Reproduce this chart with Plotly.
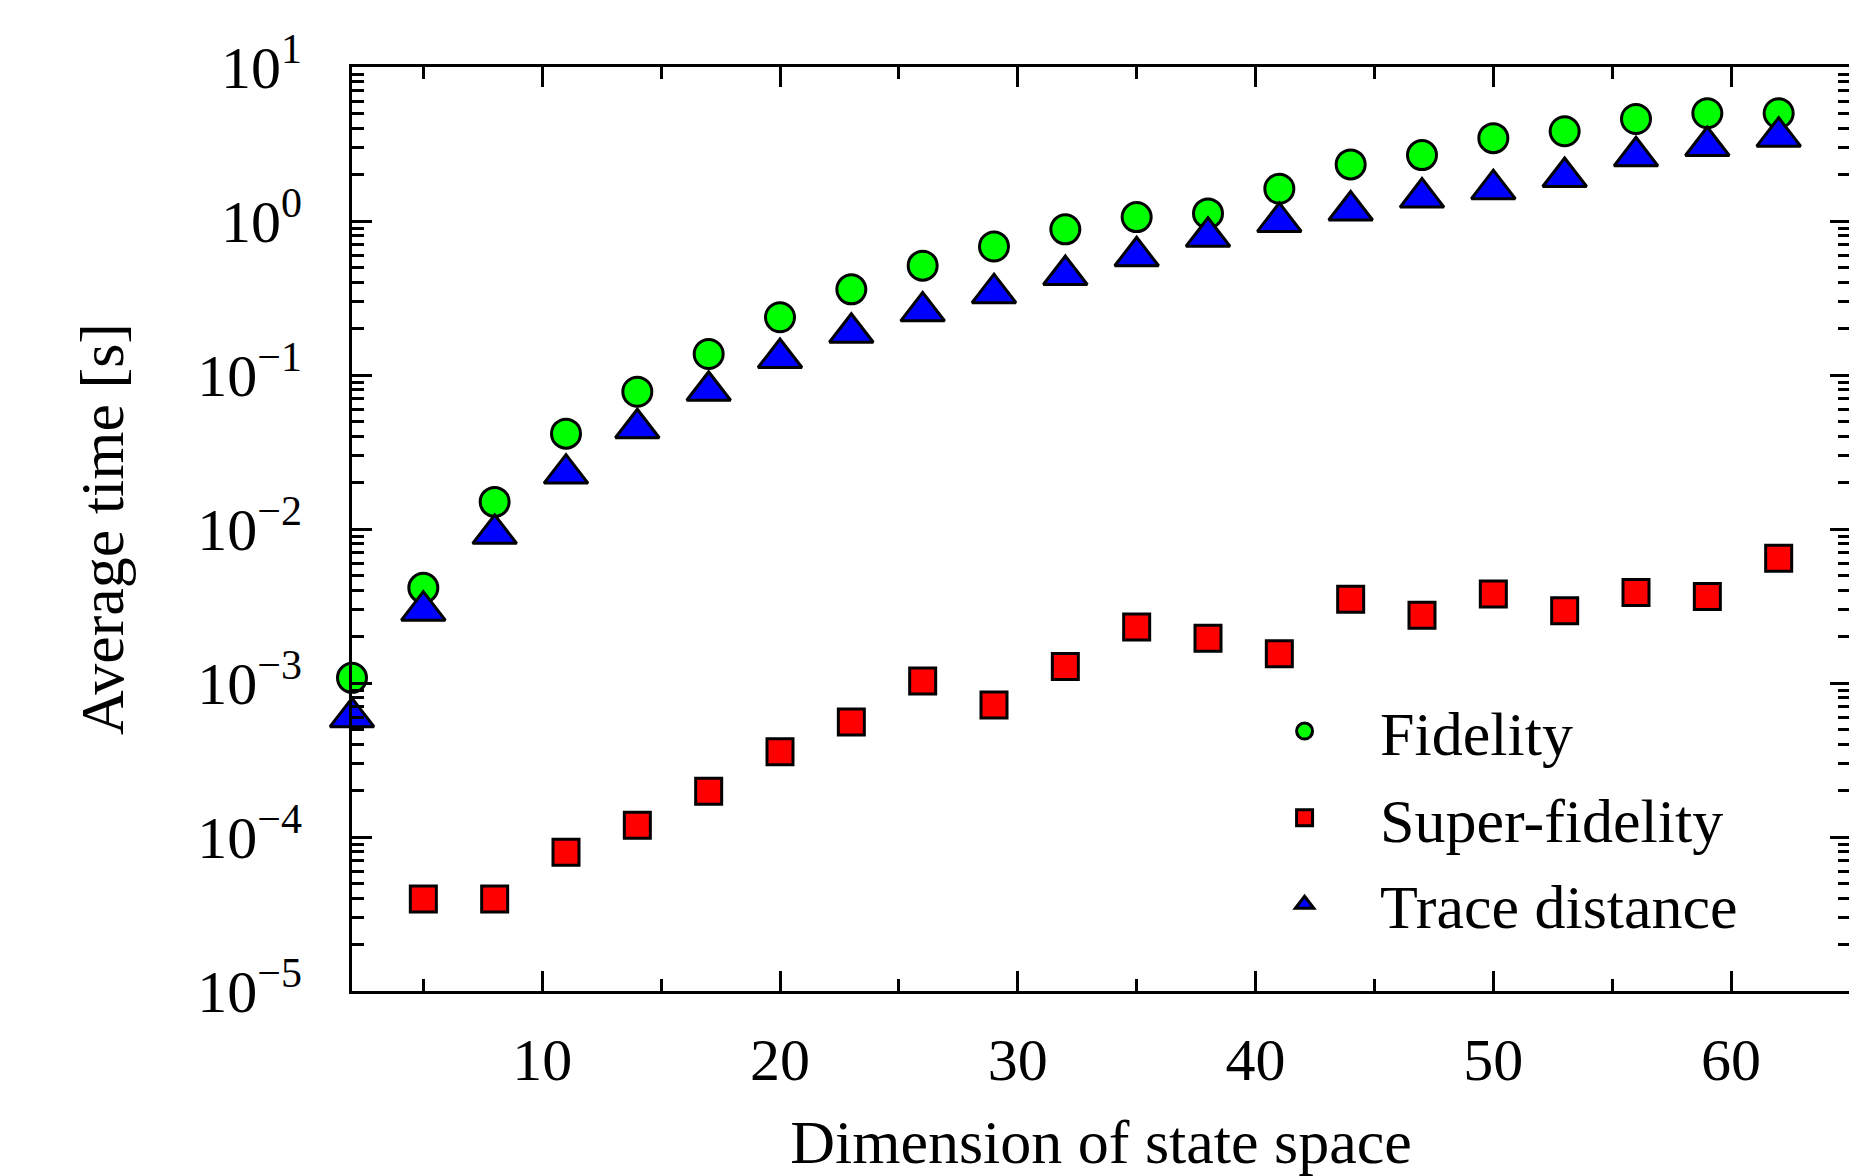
import plotly.graph_objects as go

# ---- data ----
dims = [2, 5, 8, 11, 14, 17, 20, 23, 26, 29, 32, 35, 38, 41, 44, 47, 50, 53, 56, 59, 62]
fidelity = [1.08e-3, 4.15e-3, 0.0150, 0.0416, 0.0778, 0.137, 0.237, 0.36, 0.513, 0.683,
            0.883, 1.06, 1.12, 1.62, 2.33, 2.68, 3.45, 3.83, 4.6, 5.01, 5.01]
trace_distance = [6.0e-4, 2.95e-3, 9.3e-3, 0.0229, 0.0451, 0.079, 0.129, 0.188, 0.259, 0.34,
                  0.446, 0.59, 0.79, 0.987, 1.17, 1.42, 1.61, 1.93, 2.63, 3.07, 3.53]
sf_dims = [5, 8, 11, 14, 17, 20, 23, 26, 29, 32, 35, 38, 41, 44, 47, 50, 53, 56, 59, 62]
super_fidelity = [3.96e-5, 3.96e-5, 7.96e-5, 1.19e-4, 1.98e-4, 3.58e-4, 5.58e-4, 1.03e-3, 7.2e-4,
                  1.28e-3, 2.31e-3, 1.95e-3, 1.55e-3, 3.5e-3, 2.75e-3, 3.79e-3, 2.95e-3, 3.87e-3,
                  3.65e-3, 6.46e-3]

series_names = ["Fidelity", "Super-fidelity", "Trace distance"]
x_tick_vals = [10, 20, 30, 40, 50, 60]
y_exponents = [-5, -4, -3, -2, -1, 0, 1]
y_tick_text = ["10<sup>" + (("\u2212" + str(-e)) if e < 0 else str(e)) + "</sup>" for e in y_exponents]

FONT = "Liberation Serif"
FS = 60
FS_T = 62

fig = go.Figure()
fig.add_trace(go.Scatter(
    x=dims, y=fidelity, mode="markers", name=series_names[0], cliponaxis=False, legendgroup="a",
    marker=dict(symbol="circle", size=29, color="#00ff00", line=dict(color="black", width=3))))
fig.add_trace(go.Scatter(
    x=sf_dims, y=super_fidelity, mode="markers", name=series_names[1], cliponaxis=False, legendgroup="b",
    marker=dict(symbol="square", size=26, color="#ff0000", line=dict(color="black", width=3))))
fig.add_trace(go.Scatter(
    x=dims, y=trace_distance, mode="markers", name=series_names[2], cliponaxis=False, legendgroup="c",
    marker=dict(symbol="triangle-up", size=38, color="#0000ff", line=dict(color="black", width=3))))

y_minor = [k * 10.0 ** e for e in range(-5, 1) for k in range(2, 10)]

# the page adds an 8 px body margin, so the figure is 8 px smaller than the window
fig.update_layout(
    width=1849, height=1168,
    margin=dict(l=344, r=7, t=59, b=185),
    paper_bgcolor="white", plot_bgcolor="white",
    font=dict(family=FONT, size=FS, color="black"),
    showlegend=True,
    legend=dict(x=0.5855, y=0.332, xanchor="left", yanchor="top",
                bgcolor="rgba(0,0,0,0)", font=dict(family=FONT, size=FS_T),
                itemwidth=141, tracegroupgap=3),
    xaxis=dict(
        range=[2, 65], showgrid=False, zeroline=False, automargin=False,
        showline=True, linecolor="black", linewidth=3, mirror="allticks",
        ticks="inside", ticklen=20, tickwidth=2.5, tickcolor="black",
        tickmode="array", tickvals=x_tick_vals,
        ticklabelstandoff=14,
        minor=dict(ticks="inside", ticklen=12, tickwidth=2.5, tickcolor="black",
                   tickmode="linear", tick0=5, dtick=5, showgrid=False),
        title=dict(text="Dimension of state space", standoff=64,
                   font=dict(family=FONT, size=FS_T)),
        tickfont=dict(family=FONT, size=FS),
    ),
    yaxis=dict(
        type="log", range=[-5, 1], showgrid=False, zeroline=False, automargin=False,
        showline=True, linecolor="black", linewidth=3, mirror="allticks",
        ticks="inside", ticklen=20, tickwidth=2.5, tickcolor="black",
        tickmode="array", tickvals=[10.0 ** e for e in y_exponents], ticktext=y_tick_text,
        ticklabelstandoff=35,
        minor=dict(ticks="inside", ticklen=12, tickwidth=2.5, tickcolor="black",
                   tickmode="array", tickvals=y_minor, showgrid=False),
        title=dict(text="Average time [s]", standoff=54,
                   font=dict(family=FONT, size=FS_T)),
        tickfont=dict(family=FONT, size=FS),
    ),
)

fig.write_html("out.html")
